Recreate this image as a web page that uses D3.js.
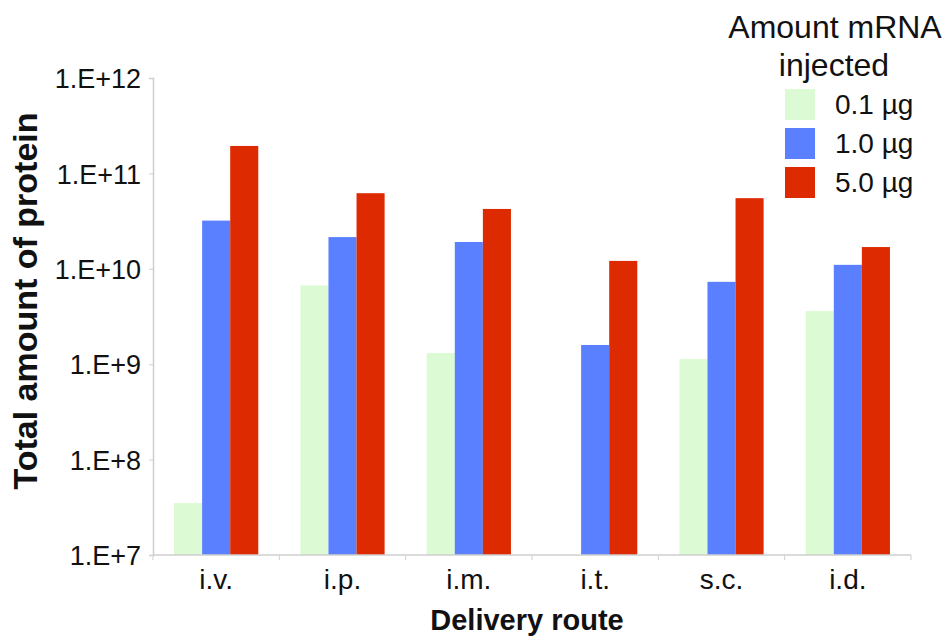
<!DOCTYPE html>
<html>
<head>
<meta charset="utf-8">
<script src="https://cdn.jsdelivr.net/npm/d3@7"></script>
<style>
  body { margin: 0; background: #fff; }
  text { font-family: "Liberation Sans", Arial, Helvetica, sans-serif; fill: #111; }
</style>
</head>
<body>
<div id="chart"></div>
<script>
const routes = ["i.v.", "i.p.", "i.m.", "i.t.", "s.c.", "i.d."];
const doses = ["0.1 \u00b5g", "1.0 \u00b5g", "5.0 \u00b5g"];
const dose01 = [3.5e7, 6.7e9, 1.31e9, null, 1.13e9, 3.6e9];
const dose10 = [3.2e10, 2.15e10, 1.91e10, 1.59e9, 7.3e9, 1.1e10];
const dose50 = [1.94e11, 6.2e10, 4.24e10, 1.21e10, 5.5e10, 1.69e10];
const yTicks = [1e7, 1e8, 1e9, 1e10, 1e11, 1e12];
const colors = ["#dcfad3", "#5a80ff", "#dd2a00"];

const width = 949, height = 639;
const plotLeft = 153, plotRight = 911, plotTop = 78, plotBottom = 555;

const svg = d3.select("#chart").append("svg")
    .attr("width", width)
    .attr("height", height);

const x = d3.scaleBand()
    .domain(routes)
    .range([plotLeft, plotRight])
    .paddingInner(1 / 3)
    .paddingOuter(1 / 6);

const xSub = d3.scaleBand()
    .domain(doses)
    .range([0, x.bandwidth()]);

const y = d3.scaleLog()
    .domain([1e7, 1e12])
    .range([plotBottom, plotTop]);

// bars
const series = [dose01, dose10, dose50];
const rows = [];
series.forEach((vals, s) => {
    vals.forEach((v, i) => {
        if (v != null) rows.push({ route: routes[i], dose: doses[s], value: v, color: colors[s] });
    });
});

svg.append("g").selectAll("rect")
    .data(rows)
    .join("rect")
    .attr("x", d => x(d.route) + xSub(d.dose))
    .attr("y", d => y(d.value))
    .attr("width", xSub.bandwidth())
    .attr("height", d => y(1e7) - y(d.value))
    .attr("fill", d => d.color);

// y axis
const yAxis = svg.append("g")
    .attr("transform", `translate(${plotLeft},0)`)
    .call(d3.axisLeft(y)
        .tickValues(yTicks)
        .tickSize(4)
        .tickPadding(8)
        .tickFormat(d => "1.E+" + Math.round(Math.log10(d))));
yAxis.select(".domain").attr("stroke", "#cfcfcf").attr("stroke-width", 1.5);
yAxis.selectAll(".tick line").attr("stroke", "#cfcfcf");
yAxis.selectAll(".tick text")
    .attr("font-size", 27)
    .attr("dy", "0.36em")
    .style("font-family", "'Liberation Sans', Arial, sans-serif")
    .attr("fill", "#111");

// x axis: line with ticks at the band edges
const xAxis = svg.append("g");
xAxis.append("line")
    .attr("x1", plotLeft).attr("x2", plotRight)
    .attr("y1", plotBottom).attr("y2", plotBottom)
    .attr("stroke", "#cfcfcf").attr("stroke-width", 1.5);
const edges = routes.map(r => x(r) - x.step() * x.paddingInner() / 2).concat([plotRight]);
xAxis.selectAll(".edge")
    .data(edges)
    .join("line")
    .attr("x1", d => d).attr("x2", d => d)
    .attr("y1", plotBottom).attr("y2", plotBottom + 5)
    .attr("stroke", "#cfcfcf");
xAxis.selectAll(".cat")
    .data(routes)
    .join("text")
    .attr("x", d => x(d) + x.bandwidth() / 2)
    .attr("y", 589)
    .attr("text-anchor", "middle")
    .attr("font-size", 28)
    .text(d => d);

// axis titles
svg.append("text")
    .attr("x", 527)
    .attr("y", 630)
    .attr("text-anchor", "middle")
    .attr("font-size", 29)
    .attr("font-weight", "bold")
    .text("Delivery route");

svg.append("text")
    .attr("transform", "translate(37,301) rotate(-90)")
    .attr("text-anchor", "middle")
    .attr("font-size", 34)
    .attr("font-weight", "bold")
    .text("Total amount of protein");

// legend
const legend = svg.append("g");
legend.append("text")
    .attr("x", 835).attr("y", 38)
    .attr("text-anchor", "middle")
    .attr("font-size", 32)
    .text("Amount mRNA");
legend.append("text")
    .attr("x", 834).attr("y", 76)
    .attr("text-anchor", "middle")
    .attr("font-size", 32)
    .text("injected");

const item = legend.selectAll(".item")
    .data(doses)
    .join("g")
    .attr("transform", (d, i) => `translate(785,${89 + i * 39})`);
item.append("rect")
    .attr("width", 30).attr("height", 31)
    .attr("fill", (d, i) => colors[i]);
item.append("text")
    .attr("x", 50).attr("y", 25)
    .attr("font-size", 28)
    .text(d => d);
</script>
</body>
</html>
